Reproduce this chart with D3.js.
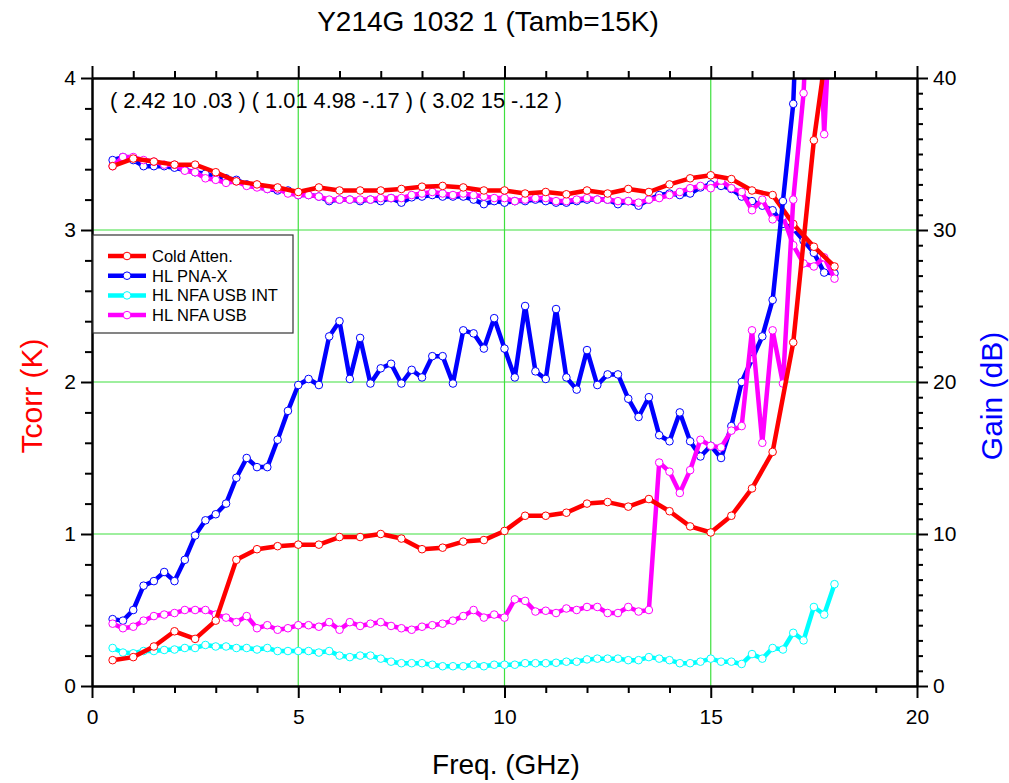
<!DOCTYPE html>
<html>
<head>
<meta charset="utf-8">
<script src="https://cdn.jsdelivr.net/npm/d3@7"></script>
<style>
  body { margin: 0; background: #fff; }
  svg text { font-family: "Liberation Sans", Arial, sans-serif; }
</style>
</head>
<body>
<svg id="chart" width="1009" height="783"></svg>
<script>
// Frequency grids (GHz)
const freqQuarter = [0.5,0.75,1,1.25,1.5,1.75,2,2.25,2.5,2.75,3,3.25,3.5,3.75,4,4.25,4.5,4.75,
  5,5.25,5.5,5.75,6,6.25,6.5,6.75,7,7.25,7.5,7.75,8,8.25,8.5,8.75,9,9.25,9.5,9.75,
  10,10.25,10.5,10.75,11,11.25,11.5,11.75,12,12.25,12.5,12.75,13,13.25,13.5,13.75,
  14,14.25,14.5,14.75,15,15.25,15.5,15.75,16,16.25,16.5,16.75,17,17.25,17.5,17.75,18];
const freqHalf = [0.5,1,1.5,2,2.5,3,3.5,4,4.5,5,5.5,6,6.5,7,7.5,8,8.5,9,9.5,10,
  10.5,11,11.5,12,12.5,13,13.5,14,14.5,15,15.5,16,16.5,17,17.5,18];

// Cold Atten. : noise temperature (K) and gain (dB), 0.5 GHz steps
const coldTcorr = [0.17,0.19,0.26,0.36,0.31,0.43,0.83,0.90,0.92,0.93,0.93,0.98,0.98,1.00,0.97,0.90,
  0.91,0.95,0.96,1.02,1.12,1.12,1.14,1.20,1.21,1.18,1.23,1.15,1.05,1.01,1.12,1.30,1.54,2.26,3.59,4.57];
const coldGain = [34.2,34.7,34.5,34.3,34.3,33.8,33.2,33.0,32.8,32.5,32.8,32.6,32.6,32.6,32.7,32.85,
  32.9,32.8,32.6,32.6,32.4,32.5,32.35,32.6,32.4,32.7,32.5,33.0,33.4,33.6,33.35,32.6,32.3,30.4,28.9,27.6];

// HL PNA-X : 0.25 GHz steps
const pnaTcorr = [0.44,0.43,0.50,0.66,0.69,0.75,0.69,0.83,0.99,1.09,1.13,1.20,1.37,1.50,1.44,1.44,
  1.62,1.81,1.98,2.02,1.98,2.30,2.40,2.02,2.29,1.99,2.09,2.12,1.99,2.08,2.03,2.17,2.17,1.99,
  2.34,2.32,2.22,2.42,2.22,2.03,2.50,2.07,2.02,2.48,2.03,1.95,2.21,1.98,2.05,2.05,1.89,1.77,
  1.90,1.65,1.61,1.80,1.61,1.51,1.58,1.50,1.71,2.00,2.15,2.30,2.54,3.19,3.83,5.60];
const pnaGain = [34.6,34.8,34.6,34.2,34.2,34.2,34.1,33.95,33.8,33.7,33.5,33.4,33.3,33.0,32.85,32.7,
  32.6,32.6,32.3,32.3,32.2,31.9,32.0,32.0,31.9,32.0,31.9,32.1,31.8,32.15,32.2,32.3,32.2,32.2,
  32.2,32.0,31.7,31.9,31.8,31.9,31.9,32.0,31.9,31.8,31.8,31.9,32.0,32.0,32.0,31.7,31.9,31.6,
  32.0,32.3,32.4,32.3,32.4,32.8,33.0,32.9,32.7,32.2,31.9,31.6,31.3,30.4,30.1,29.3,28.5,27.2,27.15];

// HL NFA USB INT : 0.25 GHz steps
const intTcorr = [0.25,0.22,0.215,0.23,0.23,0.237,0.24,0.25,0.25,0.27,0.26,0.26,0.25,0.25,0.24,0.25,
  0.23,0.23,0.23,0.23,0.22,0.23,0.20,0.19,0.20,0.20,0.18,0.16,0.15,0.15,0.15,0.14,0.13,0.13,
  0.13,0.14,0.13,0.14,0.14,0.14,0.15,0.15,0.15,0.153,0.16,0.16,0.175,0.18,0.18,0.18,0.17,0.17,
  0.19,0.18,0.17,0.15,0.15,0.16,0.18,0.16,0.16,0.145,0.21,0.18,0.25,0.24,0.35,0.30,0.52,0.47,0.67];

// HL NFA USB : 0.25 GHz steps
const usbTcorr = [0.41,0.38,0.39,0.43,0.46,0.47,0.48,0.50,0.50,0.50,0.47,0.45,0.42,0.46,0.38,0.40,
  0.37,0.38,0.40,0.40,0.39,0.42,0.37,0.42,0.395,0.41,0.42,0.395,0.38,0.37,0.39,0.40,0.41,0.43,
  0.46,0.50,0.45,0.47,0.45,0.57,0.56,0.49,0.495,0.48,0.51,0.50,0.52,0.52,0.48,0.48,0.52,0.49,
  0.50,1.47,1.41,1.27,1.42,1.62,1.58,1.57,1.68,1.71,2.34,1.60,2.34,1.99,3.20,3.90,5.40,3.63,5.00];
const usbGain = [34.2,34.8,34.8,34.6,34.5,34.3,34.3,33.9,33.8,33.4,33.3,33.1,33.2,32.9,32.8,32.7,
  32.7,32.4,32.3,32.3,32.2,32.0,32.0,32.0,32.0,32.0,32.1,32.1,32.1,32.3,32.4,32.5,32.4,32.3,
  32.4,32.3,32.2,32.1,32.1,31.9,32.0,32.1,32.1,31.9,31.9,32.0,32.1,32.0,32.0,31.9,31.9,31.8,
  32.0,32.1,32.3,32.5,32.75,32.9,32.75,33.25,32.75,32.5,31.3,32.0,30.7,30.9,29.0,27.8,27.6,28.2,26.8];

// Axis ticks and labels
const xMajor = [0,5,10,15,20];
const xMinor = [1,2,3,4,6,7,8,9,11,12,13,14,16,17,18,19];
const tMajor = [0,1,2,3,4];
const tMinor = [0.2,0.4,0.6,0.8,1.2,1.4,1.6,1.8,2.2,2.4,2.6,2.8,3.2,3.4,3.6,3.8];
const gMajor = [0,10,20,30,40];
const gMinor = [1,2,3,4,5,6,7,8,9,11,12,13,14,15,16,17,18,19,21,22,23,24,25,26,27,28,29,
  31,32,33,34,35,36,37,38,39];
const xGrid = [5,10,15];
const tGrid = [1,2,3];

const legendNames = ["Cold Atten.","HL PNA-X","HL NFA USB INT","HL NFA USB"];
const seriesColors = ["#ff0000","#0000ff","#00ffff","#ff00ff"];
const titleText = "Y214G 1032 1 (Tamb=15K)";
const noteText = "( 2.42 10 .03 ) ( 1.01 4.98 -.17 ) ( 3.02 15 -.12 )";

const svg = d3.select("#chart");
const L = 92, R = 917, T = 78, B = 686;
const x = d3.scaleLinear().domain([0,20]).range([L,R]);
const yT = d3.scaleLinear().domain([0,4]).range([B,T]);
const yG = d3.scaleLinear().domain([0,40]).range([B,T]);

svg.append("rect").attr("width",1009).attr("height",783).attr("fill","#fff");
svg.append("defs").append("clipPath").attr("id","plotClip")
  .append("rect").attr("x",L).attr("y",T).attr("width",R-L).attr("height",B-T);

// grid
const grid = svg.append("g").attr("stroke","#3ee03e").attr("stroke-width",1.2);
grid.selectAll(".gx").data(xGrid).join("line")
  .attr("x1",d=>x(d)).attr("x2",d=>x(d)).attr("y1",T).attr("y2",B);
grid.selectAll(".gy").data(tGrid).join("line")
  .attr("x1",L).attr("x2",R).attr("y1",d=>yT(d)).attr("y2",d=>yT(d));

const plot = svg.append("g").attr("clip-path","url(#plotClip)");

function drawSeries(freqs, vals, yScale, color) {
  const pts = vals.map((v,i)=>[freqs[i], v]);
  const g = plot.append("g");
  g.append("path").datum(pts)
    .attr("fill","none").attr("stroke",color).attr("stroke-width",4.5)
    .attr("stroke-linejoin","round")
    .attr("d", d3.line().x(d=>x(d[0])).y(d=>yScale(d[1])));
  g.selectAll("circle").data(pts).join("circle")
    .attr("cx",d=>x(d[0])).attr("cy",d=>yScale(d[1])).attr("r",3.8)
    .attr("fill","#fff").attr("stroke",color).attr("stroke-width",1);
}

// gain curves (right axis)
drawSeries(freqQuarter, pnaGain, yG, seriesColors[1]);
drawSeries(freqQuarter, usbGain, yG, seriesColors[3]);
drawSeries(freqHalf, coldGain, yG, seriesColors[0]);
// noise temperature curves (left axis)
drawSeries(freqQuarter, pnaTcorr, yT, seriesColors[1]);
drawSeries(freqQuarter, intTcorr, yT, seriesColors[2]);
drawSeries(freqQuarter, usbTcorr, yT, seriesColors[3]);
drawSeries(freqHalf, coldTcorr, yT, seriesColors[0]);

// axes
function styleAxis(g) {
  g.selectAll("path.domain").attr("stroke","#000").attr("stroke-width",2);
  g.selectAll(".tick line").attr("stroke","#000").attr("stroke-width",2);
  g.selectAll(".tick text").attr("fill","#000").attr("font-size",21)
    .attr("font-family","'Liberation Sans', Arial, sans-serif");
}
const fmt = d3.format("d");
svg.append("g").attr("transform",`translate(0,${B})`)
  .call(d3.axisBottom(x).tickValues(xMinor).tickSize(7).tickFormat("").tickSizeOuter(0)).call(styleAxis);
svg.append("g").attr("transform",`translate(0,${B})`)
  .call(d3.axisBottom(x).tickValues(xMajor).tickSize(12).tickPadding(11).tickFormat(fmt).tickSizeOuter(0)).call(styleAxis);
svg.append("g").attr("transform",`translate(0,${T})`)
  .call(d3.axisTop(x).tickValues(xMinor).tickSize(7).tickFormat("").tickSizeOuter(0)).call(styleAxis);
svg.append("g").attr("transform",`translate(0,${T})`)
  .call(d3.axisTop(x).tickValues(xMajor).tickSize(12).tickFormat("").tickSizeOuter(0)).call(styleAxis);
svg.append("g").attr("transform",`translate(${L},0)`)
  .call(d3.axisLeft(yT).tickValues(tMinor).tickSize(7).tickFormat("").tickSizeOuter(0)).call(styleAxis);
svg.append("g").attr("transform",`translate(${L},0)`)
  .call(d3.axisLeft(yT).tickValues(tMajor).tickSize(11).tickPadding(5).tickFormat(fmt).tickSizeOuter(0)).call(styleAxis);
svg.append("g").attr("transform",`translate(${R},0)`)
  .call(d3.axisRight(yG).tickValues(gMinor).tickSize(6).tickFormat("").tickSizeOuter(0)).call(styleAxis);
svg.append("g").attr("transform",`translate(${R},0)`)
  .call(d3.axisRight(yG).tickValues(gMajor).tickSize(11).tickPadding(5).tickFormat(fmt).tickSizeOuter(0)).call(styleAxis);

// legend
const lg = svg.append("g");
lg.append("rect").attr("x",93).attr("y",235).attr("width",200).attr("height",98)
  .attr("fill","#fff").attr("stroke","#333").attr("stroke-width",1.2);
legendNames.forEach((name,i)=>{
  const cy = 256 + i*19.7;
  lg.append("line").attr("x1",108).attr("x2",146).attr("y1",cy).attr("y2",cy)
    .attr("stroke",seriesColors[i]).attr("stroke-width",4.5);
  lg.append("circle").attr("cx",127).attr("cy",cy).attr("r",3.8)
    .attr("fill","#fff").attr("stroke",seriesColors[i]).attr("stroke-width",1);
  lg.append("text").attr("x",152).attr("y",cy+5.8).attr("font-size",16.5).attr("fill","#000").text(name);
});

// texts
svg.append("text").attr("x",488).attr("y",31).attr("text-anchor","middle")
  .attr("font-size",28).attr("fill","#000").text(titleText);
svg.append("text").attr("x",110).attr("y",108).attr("font-size",21.8).attr("fill","#000").text(noteText);
svg.append("text").attr("x",506).attr("y",774).attr("text-anchor","middle")
  .attr("font-size",28).attr("fill","#000").text("Freq. (GHz)");
svg.append("text").attr("transform","translate(42,396) rotate(-90)").attr("text-anchor","middle")
  .attr("font-size",30).attr("fill","#ff0000").text("Tcorr (K)");
svg.append("text").attr("transform","translate(1002,396) rotate(-90)").attr("text-anchor","middle")
  .attr("font-size",30).attr("fill","#0000ff").text("Gain (dB)");
</script>
</body>
</html>
